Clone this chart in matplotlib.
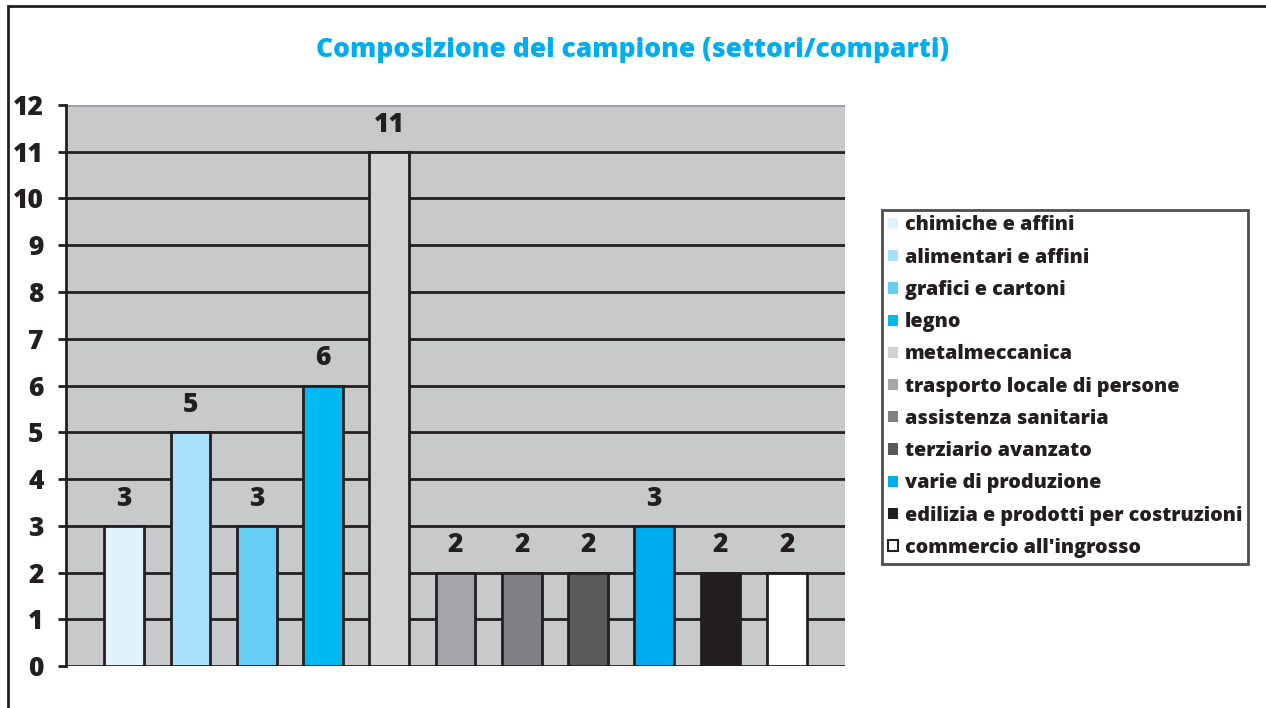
import matplotlib
matplotlib.use('Agg')
import matplotlib.pyplot as plt
from matplotlib.patches import Patch, Rectangle

# Data
sectors = ['chimiche e affini', 'alimentari e affini', 'grafici e cartoni', 'legno',
           'metalmeccanica', 'trasporto locale di persone', 'assistenza sanitaria',
           'terziario avanzato', 'varie di produzione',
           'edilizia e prodotti per costruzioni', "commercio all'ingrosso"]
counts = [3, 5, 3, 6, 11, 2, 2, 2, 3, 2, 2]
colors = ['#e0f2fa', '#a9dff8', '#66cdf4', '#00b9f0', '#d1d2d4', '#a6a7aa',
          '#808184', '#58595b', '#00aeef', '#231f20', '#ffffff']

plt.rcParams['font.family'] = ['Open Sans', 'DejaVu Sans']
plt.rcParams['font.weight'] = 'heavy'

fig = plt.figure(figsize=(12.66, 7.08), dpi=100)
ax = fig.add_axes([0.0521, 0.0593, 0.6154, 0.7924])

# frame around the figure (only top and left visible in the reference)
fig.patches.append(Rectangle((0.0065, -0.05), 1.2, 1.041, transform=fig.transFigure,
                             fill=False, edgecolor='#231f20', linewidth=2))

x = list(range(len(counts)))
ax.set_facecolor('#c8c9cb')
ax.bar(x, counts, width=0.6, color=colors, edgecolor='#231f20', linewidth=2, zorder=3)
for xi, v in zip(x, counts):
    ax.text(xi, v + 0.3, str(v), ha='center', va='bottom', fontsize=19,
            fontweight='heavy', color='#231f20', zorder=4)

ax.set_xlim(-0.88, 10.88)
ax.set_ylim(0, 12)
ax.set_yticks(range(13))
ax.set_xticks([])
for y in range(12):
    ax.axhline(y, color='#231f20', linewidth=2, zorder=2)
ax.axhline(12, color='#9d9ea1', linewidth=2, zorder=2)
ax.tick_params(axis='y', length=6, width=2, color='#231f20', labelsize=19,
               labelcolor='#231f20', pad=10)
for lab in ax.get_yticklabels():
    lab.set_fontweight('heavy')
for s in ['top', 'right', 'bottom']:
    ax.spines[s].set_visible(False)
ax.spines['left'].set_color('#231f20')
ax.spines['left'].set_linewidth(2)

fig.text(0.5, 0.93, 'Composizione del campione (settori/comparti)', ha='center',
         va='center', fontsize=19, fontweight='heavy', color='#00aeef')

handles = [Patch(facecolor=c, edgecolor=('#231f20' if c == '#ffffff' else 'none'),
                 linewidth=1.5, label=s) for c, s in zip(colors, sectors)]
leg = fig.legend(handles=handles, loc='upper left', bbox_to_anchor=(0.697, 0.704),
                 frameon=True, fancybox=False, fontsize=14.2, handlelength=0.5,
                 handleheight=0.5, handletextpad=0.35, labelspacing=0.62,
                 borderpad=0.3, borderaxespad=0)
leg.get_frame().set_edgecolor('#231f20')
leg.get_frame().set_linewidth(2)
for t in leg.get_texts():
    t.set_color('#231f20')
    t.set_fontweight('heavy')

fig.savefig('out.png', dpi=100)
